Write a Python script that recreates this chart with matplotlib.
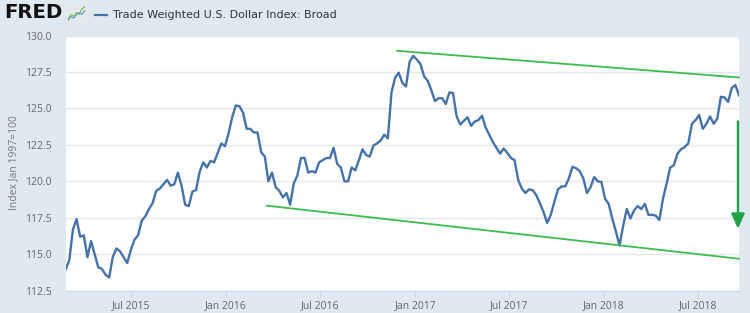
import matplotlib
matplotlib.use("Agg")
import matplotlib.pyplot as plt
import pandas as pd

plt.rcParams['font.family'] = ['Open Sans', 'DejaVu Sans']

# weekly values (week ending Wednesday)
start_date = "2015-02-25"
dollar_index = [
    113.98, 114.6, 116.7, 117.4, 116.2, 116.3, 114.8, 115.9, 115.0, 114.1,
    114.0, 113.6, 113.4, 114.8, 115.4, 115.2, 114.8, 114.4, 115.3, 116.0,
    116.3, 117.3, 117.6, 118.1, 118.5, 119.35, 119.5, 119.8, 120.1, 119.7,
    119.8, 120.6, 119.7, 118.4, 118.3, 119.3, 119.4,
    120.65, 121.3, 120.95, 121.4, 121.3, 121.95, 122.6, 122.4, 123.3, 124.4,
    125.2, 125.15, 124.7, 123.6, 123.6, 123.35, 123.35, 122.0, 121.7, 120.0,
    120.6, 119.6, 119.35, 118.9, 119.2, 118.4, 119.85, 120.4, 121.6, 121.6,
    120.6, 120.7, 120.6, 121.3, 121.45, 121.6, 121.6, 122.3, 121.2, 120.95,
    120.0, 120.0, 120.95, 120.75, 121.45, 122.2, 121.8, 121.7, 122.45, 122.6,
    122.8, 123.2, 122.95, 126.1, 127.1, 127.45, 126.75, 126.5, 128.2, 128.6,
    128.35, 128.05, 127.2, 126.9, 126.25, 125.5, 125.7,
    125.7, 125.3, 126.1, 126.05, 124.45, 123.9, 124.15, 124.4, 123.8, 124.1,
    124.2, 124.5, 123.7, 123.2, 122.7, 122.3, 121.9, 122.25, 121.95, 121.6,
    121.45, 120.1, 119.5, 119.2, 119.45, 119.4, 119.05, 118.5, 117.9, 117.15,
    117.7, 118.6, 119.45, 119.65, 119.65, 120.2, 121.0, 120.9, 120.7, 120.2,
    119.2, 119.6, 120.3, 120.0, 119.95, 118.8, 118.45, 117.45, 116.55, 115.6,
    116.95, 118.1, 117.45, 118.0, 118.3, 118.1, 118.45, 117.7, 117.7, 117.65,
    117.35, 118.8, 119.85, 120.95, 121.1, 121.9, 122.2, 122.35, 122.6, 123.95,
    124.2, 124.55, 123.6, 123.95, 124.45, 123.95, 124.3, 125.8, 125.75, 125.45,
    126.4, 126.6, 125.9,
]
dates = pd.date_range(start_date, periods=len(dollar_index), freq="W-WED")

# hand-drawn channel lines and arrow (date, value)
upper_x = ["2016-11-27", "2018-09-19"]
upper_y = [128.95, 127.12]
lower_x = ["2016-03-20", "2018-09-19"]
lower_y = [118.33, 114.69]
arrow_x = "2018-09-17"
arrow_y = [124.3, 116.55]

yticks = [112.5, 115.0, 117.5, 120.0, 122.5, 125.0, 127.5, 130.0]
xticks = ["2015-07-01", "2016-01-01", "2016-07-01", "2017-01-01",
          "2017-07-01", "2018-01-01", "2018-07-01"]
xticklabels = ["Jul 2015", "Jan 2016", "Jul 2016", "Jan 2017",
               "Jul 2017", "Jan 2018", "Jul 2018"]

bg = "#e1e9f0"
fig = plt.figure(figsize=(7.5, 3.13), dpi=100, facecolor=bg)
ax = fig.add_axes([65.7 / 750, 1 - 290.7 / 313, (739 - 65.7) / 750, (290.7 - 35.5) / 313])
ax.set_facecolor("white")

ax.plot(dates, dollar_index, color="#4572a7", lw=1.7, zorder=3)

green = "#3dbd4f"
ax.plot(pd.to_datetime(upper_x), upper_y, color=green, lw=1.3, zorder=4, clip_on=False)
ax.plot(pd.to_datetime(lower_x), lower_y, color=green, lw=1.3, zorder=4, clip_on=False)
ax.annotate("", xy=(pd.Timestamp(arrow_x), arrow_y[1]), xytext=(pd.Timestamp(arrow_x), arrow_y[0]),
            arrowprops=dict(arrowstyle="-|>,head_width=0.4,head_length=0.9",
                            color="#1fa347", lw=1.7), annotation_clip=False, zorder=5)

ax.set_xlim(dates[0], dates[-1])
ax.set_ylim(112.5, 130)
ax.set_yticks(yticks)
ax.set_yticklabels([f"{t:.1f}" for t in yticks])
ax.set_xticks(pd.to_datetime(xticks))
ax.set_xticklabels(xticklabels)

ax.grid(axis="y", color="#e6e6e6", lw=1)
ax.set_axisbelow(True)
for s in ["top", "right", "left"]:
    ax.spines[s].set_visible(False)
ax.spines["bottom"].set_color("#ccd6eb")
ax.tick_params(axis="y", length=0, pad=10, labelsize=7.5, labelcolor="#666666")
ax.tick_params(axis="x", length=4, color="#ccd6eb", pad=3, labelsize=7.5, labelcolor="#666666")

fig.text(14 / 750, 1 - 163 / 313, "Index Jan 1997=100", rotation=90, ha="center", va="center",
         fontsize=7.5, color="#777777")

# header: FRED logo and legend
fig.text(4 / 750, 1 - 12.5 / 313, "FRED", fontsize=14.2, fontweight="heavy", color="#111111",
         family="DejaVu Sans", ha="left", va="center")
icon = fig.add_axes([67 / 750, 1 - 22 / 313, 19 / 750, 17 / 313])
icon.set_facecolor("#e6e9ec")
icon_green = [1, 3, 2, 4, 3, 6, 7]
icon_blue = [0, 2, 1, 3, 4, 3, 5]
icon.plot(icon_green, color="#6cbf4f", lw=0.8)
icon.plot(icon_blue, color="#6f93c8", lw=0.8)
icon.set_xlim(-0.5, 6.5)
icon.set_ylim(-1, 8)
icon.set_xticks([])
icon.set_yticks([])
for s in icon.spines.values():
    s.set_visible(False)

fig.add_artist(plt.Line2D([95 / 750, 107 / 750], [1 - 14.5 / 313, 1 - 14.5 / 313],
                          color="#4572a7", lw=1.6))
fig.text(113 / 750, 1 - 14.5 / 313, "Trade Weighted U.S. Dollar Index: Broad", fontsize=8,
         color="#333333", family="DejaVu Sans", ha="left", va="center")

fig.savefig("out.png", dpi=100, facecolor=bg)
